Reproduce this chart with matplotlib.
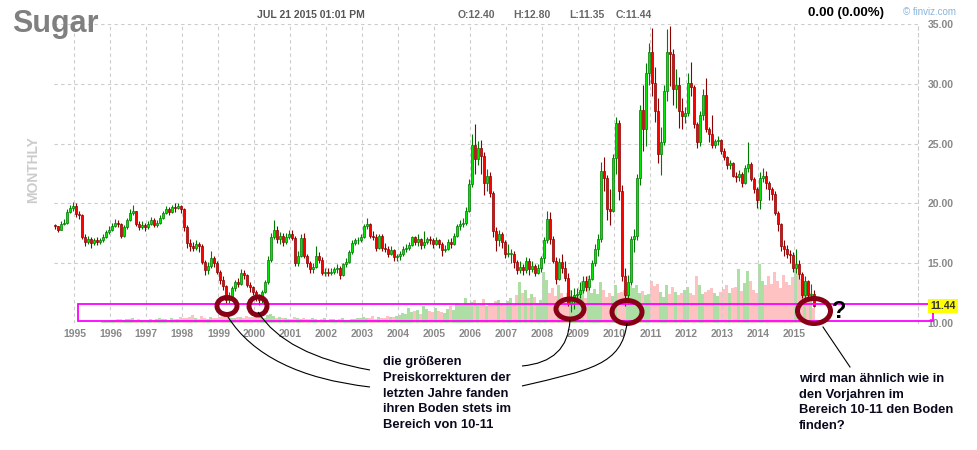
import numpy as np
import matplotlib
matplotlib.use('Agg')
import matplotlib.pyplot as plt
from matplotlib.patches import Ellipse, Rectangle, PathPatch
from matplotlib.path import Path

plt.rcParams['font.family'] = ['Liberation Sans', 'DejaVu Sans']

# monthly sugar candles, Jun 1994 .. Jul 2015 (open = previous close)
first_open = 18.2
close = [
    18.1, 17.8, 18.3, 18.4, 19.3, 19.6, 19.8,                          # 1994 Jun-Dec
    19.1, 19.0, 17.2, 16.8, 17.0, 16.7, 16.9, 16.8, 16.9, 17.2, 17.6, 17.8,  # 1995
    18.1, 18.4, 18.3, 17.3, 18.0, 18.6, 19.2, 19.4, 18.3, 18.0, 18.2, 18.0,  # 1996
    18.3, 18.6, 18.2, 18.4, 18.8, 19.2, 19.5, 19.3, 19.7, 19.6, 19.8, 19.5,  # 1997
    18.0, 16.7, 16.4, 16.3, 16.6, 16.4, 15.1, 14.4, 14.8, 15.4, 15.0, 14.3,  # 1998
    13.6, 13.1, 11.9, 12.2, 12.9, 13.4, 13.3, 14.2, 14.0, 13.2, 13.0, 12.6,  # 1999
    12.2, 11.9, 12.6, 13.4, 15.3, 17.2, 17.8, 17.0, 17.3, 16.8, 17.2, 17.4,  # 2000
    17.1, 15.0, 15.6, 17.1, 15.6, 15.0, 14.5, 14.7, 15.6, 15.3, 14.2, 14.3,  # 2001
    14.2, 14.3, 14.5, 14.6, 14.0, 14.9, 15.1, 15.9, 16.7, 16.9, 16.9, 17.2,  # 2002
    18.1, 18.3, 17.3, 17.2, 16.3, 17.3, 16.3, 16.2, 15.8, 16.1, 15.5, 15.6,  # 2003
    15.8, 16.2, 16.3, 16.5, 17.2, 16.8, 17.0, 16.5, 16.8, 17.0, 16.9, 16.6,  # 2004
    16.9, 16.6, 16.1, 16.2, 16.8, 16.6, 17.3, 18.1, 18.3, 18.4, 19.4, 21.6,  # 2005
    24.9, 23.7, 24.6, 24.0, 21.7, 22.3, 20.9, 17.7, 16.9, 17.4, 16.8, 15.8,  # 2006
    15.8, 15.8, 15.1, 14.4, 14.7, 14.4, 15.2, 14.5, 14.8, 14.2, 14.6, 15.4,  # 2007
    16.9, 18.7, 17.0, 15.2, 13.7, 15.1, 14.6, 13.8, 11.6, 12.0, 12.3, 12.4,  # 2008
    12.8, 13.5, 13.0, 13.7, 15.0, 16.2, 17.0, 22.7, 22.1, 19.5, 19.4, 23.8,  # 2009
    26.7, 21.0, 13.9, 12.3, 13.4, 17.0, 17.3, 22.1, 27.8, 26.2, 30.9, 32.7,  # 2010
    30.1, 27.7, 24.1, 25.1, 29.4, 32.7, 32.5, 29.6, 29.9, 27.7, 27.3, 27.6,  # 2011
    30.1, 29.7, 26.6, 25.1, 27.4, 29.1, 26.2, 25.8, 24.9, 25.2, 25.3, 24.4,  # 2012
    23.9, 23.2, 23.4, 22.3, 22.2, 22.5, 21.7, 23.0, 23.3, 22.0, 21.2, 20.3,  # 2013
    22.1, 22.3, 21.7, 21.2, 20.8, 19.2, 18.3, 16.4, 16.2, 15.8, 15.7, 14.6,  # 2014
    14.9, 14.1, 12.3, 13.5, 12.3, 12.40, 11.44,                        # 2015 Jan-Jul
]
high = [
    18.3, 18.0, 18.5, 18.7, 19.5, 19.9, 20.1,
    20.0, 19.4, 19.1, 17.4, 17.3, 17.2, 17.1, 17.2, 17.1, 17.4, 17.8, 18.1,
    18.4, 18.7, 18.6, 18.4, 18.2, 18.8, 19.5, 19.9, 19.4, 18.5, 18.5, 18.4,
    18.5, 18.9, 18.8, 18.6, 19.0, 19.4, 19.8, 19.7, 19.9, 20.0, 20.0, 19.9,
    19.6, 18.2, 17.0, 16.8, 16.9, 16.8, 16.6, 15.3, 15.1, 16.0, 15.6, 15.2,
    14.4, 13.9, 13.2, 12.6, 13.1, 13.6, 13.8, 14.5, 14.4, 14.1, 13.4, 13.1,
    12.8, 12.4, 12.8, 13.6, 15.6, 17.5, 18.6, 18.1, 17.6, 17.5, 17.5, 17.8,
    17.8, 17.3, 16.0, 17.4, 17.5, 15.8, 15.2, 15.0, 16.4, 15.9, 15.5, 14.6,
    14.6, 14.6, 14.7, 14.9, 14.8, 15.0, 15.4, 16.1, 16.9, 17.1, 17.2, 17.4,
    18.3, 18.8, 18.4, 17.7, 17.4, 17.4, 17.4, 16.7, 16.4, 16.4, 16.2, 15.8,
    16.0, 16.4, 16.6, 16.8, 17.3, 17.3, 17.4, 17.1, 17.7, 17.2, 17.3, 17.1,
    17.2, 17.0, 16.8, 16.5, 17.0, 17.1, 17.5, 18.3, 18.6, 18.8, 19.7, 22.0,
    25.8, 26.6, 25.2, 25.3, 24.3, 22.9, 22.6, 21.0, 18.0, 17.8, 17.6, 16.9,
    16.6, 16.2, 16.0, 15.3, 15.2, 14.9, 15.5, 15.4, 15.2, 14.9, 14.9, 15.6,
    17.2, 19.4, 19.3, 17.3, 15.5, 15.4, 15.8, 15.2, 14.2, 12.8, 12.9, 12.9,
    13.4, 13.9, 13.9, 14.0, 15.3, 16.6, 17.4, 23.5, 23.9, 22.4, 21.2, 24.1,
    27.2, 27.0, 21.5, 14.6, 14.0, 17.3, 17.9, 22.5, 28.2, 29.9, 31.7, 33.4,
    34.7, 31.4, 28.8, 26.4, 29.9, 34.6, 34.8, 32.9, 31.2, 30.6, 28.8, 28.1,
    30.9, 31.8, 29.9, 26.8, 27.7, 29.6, 30.5, 26.4, 27.4, 25.4, 25.6, 25.4,
    24.6, 24.0, 23.6, 23.5, 22.6, 22.8, 22.6, 23.2, 25.1, 23.5, 22.2, 21.4,
    22.6, 23.0, 22.7, 21.9, 21.4, 21.0, 19.4, 18.4, 16.9, 16.5, 16.1, 15.9,
    16.2, 15.3, 14.3, 13.9, 13.6, 13.3, 12.80,
]
low = [
    17.9, 17.6, 17.9, 18.2, 18.3, 19.2, 19.4,
    18.9, 18.7, 17.0, 16.4, 16.6, 16.3, 16.5, 16.5, 16.6, 16.8, 17.1, 17.4,
    17.7, 18.0, 18.0, 17.1, 17.2, 17.9, 18.5, 19.0, 18.1, 17.8, 17.9, 17.7,
    17.9, 18.2, 18.0, 18.0, 18.3, 18.7, 19.1, 19.0, 19.2, 19.3, 19.5, 19.2,
    17.7, 16.3, 16.0, 16.0, 16.1, 15.9, 14.9, 14.0, 14.1, 14.6, 14.7, 14.1,
    13.3, 12.8, 11.6, 11.7, 12.1, 12.7, 13.0, 13.2, 13.7, 13.0, 12.6, 12.3,
    11.8, 11.5, 11.7, 12.5, 13.3, 15.1, 17.0, 16.7, 16.6, 16.4, 16.6, 17.0,
    16.9, 14.8, 14.8, 15.5, 15.4, 14.7, 14.2, 14.2, 14.6, 15.0, 14.0, 13.9,
    13.9, 14.0, 14.1, 14.2, 13.7, 13.9, 14.7, 15.0, 15.8, 16.5, 16.6, 16.8,
    17.1, 17.9, 17.1, 16.9, 16.0, 16.2, 16.0, 15.9, 15.5, 15.7, 15.2, 15.2,
    15.3, 15.6, 15.9, 16.1, 16.4, 16.5, 16.4, 16.2, 16.3, 16.6, 16.6, 16.3,
    16.5, 16.3, 15.6, 15.9, 16.1, 16.3, 16.5, 17.2, 17.8, 18.0, 18.2, 19.3,
    21.4, 22.5, 23.2, 22.5, 20.7, 21.0, 20.5, 17.2, 16.0, 16.4, 16.3, 15.4,
    15.5, 15.0, 14.6, 14.1, 14.2, 14.0, 14.2, 14.0, 14.3, 13.9, 14.1, 14.3,
    15.0, 16.7, 16.6, 15.0, 13.3, 13.6, 14.2, 13.5, 11.4, 10.9, 11.2, 11.8,
    12.1, 12.5, 12.7, 12.8, 13.6, 14.8, 15.6, 16.8, 21.0, 18.6, 18.2, 19.3,
    22.5, 20.3, 13.5, 11.4, 11.6, 13.2, 15.9, 16.9, 21.5, 24.4, 24.8, 29.9,
    29.0, 26.8, 23.4, 22.4, 24.9, 28.6, 29.8, 28.2, 28.0, 26.3, 26.2, 26.7,
    27.3, 29.0, 26.3, 24.6, 24.8, 27.0, 26.0, 25.1, 24.6, 24.6, 24.9, 24.1,
    23.6, 22.9, 22.9, 22.2, 21.8, 21.9, 21.4, 21.6, 22.6, 21.9, 20.9, 19.6,
    19.5, 21.8, 21.2, 20.3, 20.3, 19.0, 17.7, 16.0, 15.6, 15.4, 15.0, 14.3,
    14.2, 13.7, 12.1, 12.0, 12.2, 11.9, 11.35,
]
volume = [
    0, 0, 0, 0, 0, 0, 0,
    0, 0, 0, 0, 0, 0, 0, 0, 0, 15, 20, 25,
    30, 35, 40, 45, 35, 40, 45, 50, 35, 40, 30, 35,
    30, 40, 35, 45, 50, 40, 45, 35, 55, 40, 45, 60,
    50, 55, 60, 80, 50, 45, 70, 55, 40, 60, 55, 50,
    65, 80, 75, 60, 50, 55, 60, 65, 55, 70, 60, 65,
    70, 75, 60, 50, 80, 90, 75, 50, 60, 55, 50, 45,
    40, 60, 50, 45, 55, 40, 45, 50, 40, 35, 40, 50,
    35, 40, 45, 30, 40, 50, 35, 30, 45, 40, 50, 55,
    60, 50, 55, 70, 45, 60, 50, 55, 70, 65, 60, 75,
    80, 100, 90, 150, 110, 120, 130, 95, 170, 140, 120, 110,
    150, 120, 110, 100, 140, 170, 130, 200, 190, 180, 250, 200,
    210, 230, 180, 190, 240, 170, 200, 180, 220, 230, 200, 190,
    220, 250, 180, 280, 410, 300, 330, 250, 290, 260, 200, 230,
    510, 430, 300, 350, 270, 380, 300, 260, 300, 330, 250, 280,
    310, 420, 250, 470, 300, 340, 290, 410, 330, 260, 300, 270,
    380, 300, 310, 330, 280, 370, 350, 380, 300, 320, 280, 290,
    420, 370, 390, 310, 260, 380, 290, 360, 310, 280, 300, 330,
    360, 300, 280, 470, 380, 290, 310, 330, 350, 300, 270, 310,
    340, 380, 300, 350, 360, 540, 320, 400, 520, 420, 330, 300,
    590, 420, 380, 470, 390, 510, 420, 350, 480, 410, 380, 460,
    540, 490, 440, 420, 400, 300, 150,
]
years = list(range(1995, 2016))
price_ticks = [10, 15, 20, 25, 30, 35]
last_price = 11.44

c = np.array(close)
o = np.array([first_open] + close[:-1])
h = np.maximum(np.array(high), np.maximum(o, c))
l = np.minimum(np.array(low), np.minimum(o, c))
n = np.arange(len(c))
up = c >= o

fig = plt.figure(figsize=(9.78, 4.5), dpi=100)
ax = fig.add_axes([54 / 978, 127 / 450, 864 / 978, 299 / 450])
vax = ax.twinx()

# volume behind the candles
vax.bar(n, volume, width=1.0, linewidth=0,
        color=np.where(up, '#addfa5', '#ffc2c2'))
vax.set_ylim(0, 3000)
vax.axis('off')
ax.set_zorder(vax.get_zorder() + 1)
ax.patch.set_visible(False)

# candles
body_lo = np.minimum(o, c)
body_h = np.maximum(np.abs(c - o), 0.08)
ax.vlines(n[up], l[up], h[up], color='#007a00', lw=0.8, zorder=3)
ax.vlines(n[~up], l[~up], h[~up], color='#8b0000', lw=0.8, zorder=3)
ax.bar(n[up], body_h[up], bottom=body_lo[up], width=0.75, color='#00e600',
       edgecolor='#007a00', linewidth=0.5, zorder=4)
ax.bar(n[~up], body_h[~up], bottom=body_lo[~up], width=0.75, color='#ff0000',
       edgecolor='#8b0000', linewidth=0.5, zorder=4)

ax.set_xlim(-0.3, 287.7)
ax.set_ylim(10, 35)
ax.set_xticks([(y - 1994) * 12 - 5 - 0.5 for y in years])
ax.set_xticklabels([str(y) for y in years])
ax.set_yticks(price_ticks)
ax.set_yticklabels(['%.2f' % p for p in price_ticks])
ax.yaxis.tick_right()
ax.tick_params(axis='both', length=0, labelsize=7.5, labelcolor='#888888')
ax.tick_params(axis='x', pad=4)
ax.tick_params(axis='y', pad=7)
for lbl in ax.get_xticklabels() + ax.get_yticklabels():
    lbl.set_fontweight('bold')
ax.grid(True, color='#cccccc', linestyle=(0, (3, 3)), linewidth=0.8)
for s in ['left', 'top', 'bottom']:
    ax.spines[s].set_visible(False)
ax.spines['right'].set_color('#cccccc')
ax.spines['right'].set_linestyle((0, (3, 3)))
ax.spines['right'].set_linewidth(0.8)

# overlay in pixel coordinates for header and hand-drawn notes
ov = fig.add_axes([0, 0, 1, 1], zorder=10)
ov.set_xlim(0, 978)
ov.set_ylim(450, 0)
ov.axis('off')
ov.patch.set_alpha(0)

ov.text(12, 32, 'Sugar', fontsize=22, weight='bold', color='#808080', va='baseline')
ov.text(257, 15, 'JUL 21 2015 01:01 PM', fontsize=7.5, weight='bold',
        color='#555555', va='center')
for xp, s in [(458, 'O:12.40'), (513, 'H:12.80'), (569, 'L:11.35'), (616, 'C:11.44')]:
    ov.text(xp, 15, s, fontsize=7.5, weight='bold', color='#666666', va='center')
ov.text(808, 13, '0.00 (0.00%)', fontsize=9.5, weight='bold', color='black', va='center')
ov.text(903, 12, '\u00a9 finviz.com', fontsize=7, color='#88b4dc', va='center')
ov.text(33, 170, 'MONTHLY', rotation=90, ha='center', va='center', fontsize=10,
        weight='bold', color='#cccccc')
ov.text(943, 306, '%.2f' % last_price, ha='center', va='center', fontsize=7.5,
        weight='bold', color='#333333',
        bbox=dict(boxstyle='square,pad=0.2', fc='#ffff00', ec='none'))

# magenta band 10-11
ov.add_patch(Rectangle((78, 304), 855, 17, fill=False, ec='#ff00ff', lw=1.3))

# circles around the lows
for cx, cy, w, hh in [(227, 306, 20, 17), (258, 306, 18, 18), (570, 309, 28, 20),
                      (627, 312, 30, 23), (814, 311, 33, 25)]:
    ov.add_patch(Ellipse((cx, cy), w, hh, fill=False, ec='#880015', lw=3.6))
ov.text(839, 311, '?', ha='center', va='center', fontsize=17, weight='bold', color='black')

# connector curves
curves = [
    [(228, 317), (265, 375), (370, 387)],
    [(258, 312), (285, 355), (370, 370)],
    [(570, 320), (568, 362), (522, 366)],
]
for pts in curves:
    ov.add_patch(PathPatch(Path(pts, [Path.MOVETO, Path.CURVE3, Path.CURVE3]),
                           fill=False, ec='black', lw=0.8))
ov.add_patch(PathPatch(Path([(627, 323), (622, 365), (590, 370), (522, 386)],
                            [Path.MOVETO, Path.CURVE4, Path.CURVE4, Path.CURVE4]),
                       fill=False, ec='black', lw=0.8))
ov.plot([823, 850], [327, 367], color='black', lw=0.8)

note1 = ['die gr\u00f6\u00dferen', 'Preiskorrekturen der', 'letzten Jahre fanden',
         'ihren Boden stets im', 'Bereich von 10-11']
note2 = ['wird man \u00e4hnlich wie in', 'den Vorjahren im',
         'Bereich 10-11 den Boden', 'finden?']
for k, line in enumerate(note1):
    ov.text(383, 362 + 15.8 * k, line, fontsize=9.4, weight='bold', color='#0a0a1e',
            va='center')
for k, line in enumerate(note2):
    ov.text(799, 379 + 15.7 * k, line, fontsize=9.4, weight='bold', color='#0a0a1e',
            va='center')

fig.savefig('out.png', dpi=100)
